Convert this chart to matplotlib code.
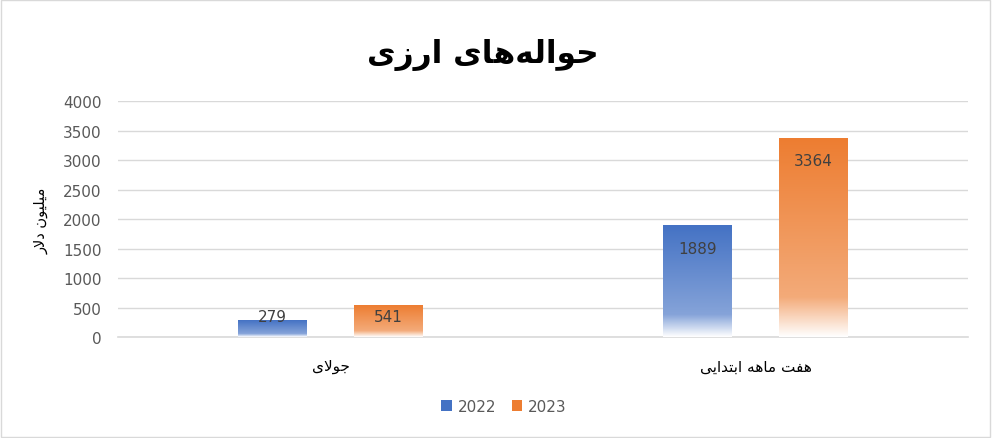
import numpy as np
import matplotlib.pyplot as plt
from matplotlib.colors import LinearSegmentedColormap, to_rgb
from matplotlib.patches import Patch

# data
categories = ['جولای', 'هفت ماهه ابتدایی']
series_names = ['2022', '2023']
values_2022 = [279, 1889]
values_2023 = [541, 3364]
colors = ['#4472C4', '#ED7D31']

title = 'حواله\u200cهای ارزی'
y_label = 'میلیون دلار'

# matplotlib does no arabic shaping, so pick presentation forms by hand
# (isolated, final, initial, medial)
forms = {
    'ا': ('\uFE8D', '\uFE8E', None, None),
    'ب': ('\uFE8F', '\uFE90', '\uFE91', '\uFE92'),
    'ت': ('\uFE95', '\uFE96', '\uFE97', '\uFE98'),
    'ج': ('\uFE9D', '\uFE9E', '\uFE9F', '\uFEA0'),
    'ح': ('\uFEA1', '\uFEA2', '\uFEA3', '\uFEA4'),
    'د': ('\uFEA9', '\uFEAA', None, None),
    'ر': ('\uFEAD', '\uFEAE', None, None),
    'ز': ('\uFEAF', '\uFEB0', None, None),
    'ف': ('\uFED1', '\uFED2', '\uFED3', '\uFED4'),
    'ل': ('\uFEDD', '\uFEDE', '\uFEDF', '\uFEE0'),
    'م': ('\uFEE1', '\uFEE2', '\uFEE3', '\uFEE4'),
    'ن': ('\uFEE5', '\uFEE6', '\uFEE7', '\uFEE8'),
    'ه': ('\uFEE9', '\uFEEA', '\uFEEB', '\uFEEC'),
    'و': ('\uFEED', '\uFEEE', None, None),
    'ی': ('\uFEEF', '\uFEF0', '\uFEF3', '\uFEF4'),
}


def joins_left(c):
    return c in forms and forms[c][2] is not None


def shape(text):
    out = []
    i = 0
    while i < len(text):
        c = text[i]
        if c not in forms:
            if c != '\u200c':
                out.append(c)
            i += 1
            continue
        prev = text[i - 1] if i > 0 else ''
        nxt = text[i + 1] if i + 1 < len(text) else ''
        pj = joins_left(prev)
        if c == 'ل' and nxt == 'ا':
            out.append('\uFEFC' if pj else '\uFEFB')
            i += 2
            continue
        nj = joins_left(c) and nxt in forms
        if pj and nj:
            out.append(forms[c][3])
        elif pj:
            out.append(forms[c][1])
        elif nj:
            out.append(forms[c][2])
        else:
            out.append(forms[c][0])
        i += 1
    return ''.join(out)[::-1]


fig = plt.figure(figsize=(9.92, 4.39), dpi=100)
fig.patches.append(plt.Rectangle((0.001, 0.002), 0.997, 0.995, transform=fig.transFigure,
                                 fill=False, edgecolor='#D9D9D9', linewidth=1))
ax = fig.add_axes([0.119, 0.229, 0.857, 0.538])

x = np.arange(len(categories))
w = 0.162
off = 0.136

ax.set_xlim(-0.5, 1.5)
ax.set_ylim(0, 4000)

for k, (vals, col) in enumerate(zip([values_2022, values_2023], colors)):
    bars = ax.bar(x + (k * 2 - 1) * off, vals, width=w, color='none', edgecolor='none', zorder=3)
    c = np.array(to_rgb(col))
    light = c + (1 - c) * 0.35
    cmap = LinearSegmentedColormap.from_list('g', [(0, 'white'), (0.2, light), (1, c)])
    grad = np.linspace(0, 1, 256).reshape(-1, 1)
    for b, v in zip(bars, vals):
        x0 = b.get_x()
        ax.imshow(grad, extent=(x0, x0 + b.get_width(), 0, v), origin='lower',
                  cmap=cmap, aspect='auto', zorder=3)
        # inside end label, pushed up out of very short bars
        ly = max(v - 374, 357)
        ax.text(x0 + b.get_width() / 2, ly, str(v), ha='center', va='center',
                fontsize=11, color='#404040', zorder=4)

ax.set_aspect('auto')
ax.set_xlim(-0.5, 1.5)
ax.set_ylim(0, 4000)

ax.set_yticks(np.arange(0, 4001, 500))
ax.yaxis.grid(True, color='#D9D9D9', linewidth=1)
ax.set_axisbelow(True)
ax.tick_params(axis='y', length=0, labelsize=11, labelcolor='#595959', pad=12)
ax.set_xticks(x)
ax.set_xticklabels([shape(c) for c in categories], fontsize=11, color='#000000')
ax.tick_params(axis='x', length=0, pad=15)
for s in ['left', 'right', 'top']:
    ax.spines[s].set_visible(False)
ax.spines['bottom'].set_color('#D9D9D9')
ax.spines['bottom'].set_linewidth(1.2)

ax.set_ylabel(shape(y_label), fontsize=10.5, labelpad=10)
fig.text(0.487, 0.875, shape(title), ha='center', va='center', fontsize=22.5, fontweight='bold')

handles = [Patch(facecolor=c, edgecolor='none') for c in colors]
fig.legend(handles, series_names, loc='center', bbox_to_anchor=(0.508, 0.072), ncol=2,
           frameon=False, fontsize=11, handlelength=0.7, handleheight=0.7,
           handletextpad=0.4, columnspacing=1.0, labelcolor='#595959')

plt.savefig('out.png', dpi=100)
